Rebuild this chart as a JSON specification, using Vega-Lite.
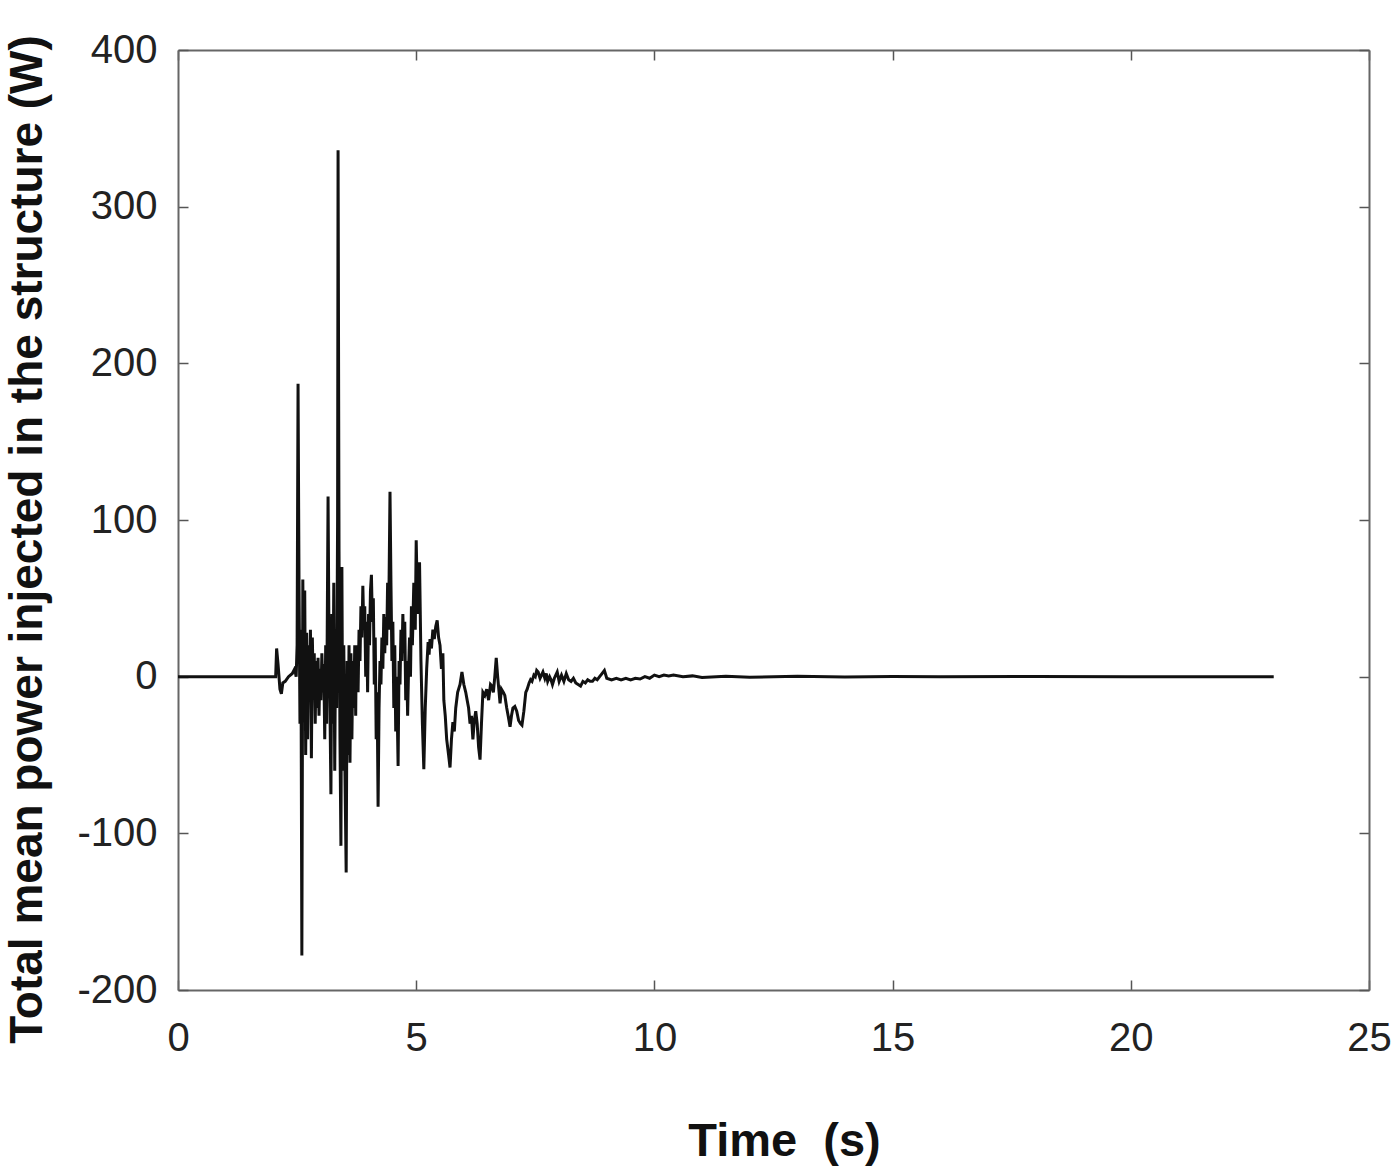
{
  "$schema": "https://vega.github.io/schema/vega-lite/v6.json",
  "autosize": {"type": "none"},
  "padding": {"left": 178, "top": 50, "right": 31, "bottom": 180},
  "width": 1191,
  "height": 940,
  "background": "white",
  "config": {
    "view": {"stroke": null},
    "axis": {
      "grid": false,
      "domainColor": "#666",
      "domainWidth": 2,
      "tickColor": "#555",
      "tickWidth": 1.5,
      "tickSize": -10,
      "labelFont": "Liberation Sans",
      "labelFontSize": 40,
      "labelColor": "#222",
      "titleFont": "Liberation Sans",
      "titleFontWeight": "bold",
      "titleColor": "#111"
    }
  },
  "data": {"values": [
    {"t": 0, "v": 0}, {"t": 2.05, "v": 0}, {"t": 2.07, "v": 18}, {"t": 2.1, "v": 8}, {"t": 2.14, "v": -8}, {"t": 2.17, "v": -11},
    {"t": 2.2, "v": -4}, {"t": 2.25, "v": -3}, {"t": 2.32, "v": 0}, {"t": 2.4, "v": 2}, {"t": 2.45, "v": 5}, {"t": 2.48, "v": 0},
    {"t": 2.5, "v": 20}, {"t": 2.52, "v": 187}, {"t": 2.54, "v": 60}, {"t": 2.56, "v": -30}, {"t": 2.58, "v": 30}, {"t": 2.6, "v": -178},
    {"t": 2.62, "v": 62}, {"t": 2.64, "v": -20}, {"t": 2.66, "v": 55}, {"t": 2.68, "v": -50}, {"t": 2.7, "v": 28}, {"t": 2.72, "v": -40},
    {"t": 2.74, "v": 20}, {"t": 2.76, "v": -15}, {"t": 2.78, "v": 30}, {"t": 2.8, "v": -52}, {"t": 2.82, "v": 25}, {"t": 2.84, "v": -10},
    {"t": 2.86, "v": 15}, {"t": 2.88, "v": -30}, {"t": 2.9, "v": 10}, {"t": 2.92, "v": -20}, {"t": 2.94, "v": 12}, {"t": 2.96, "v": -25},
    {"t": 2.98, "v": 5}, {"t": 3.0, "v": -15}, {"t": 3.02, "v": 15}, {"t": 3.04, "v": -10}, {"t": 3.06, "v": 8}, {"t": 3.08, "v": -40},
    {"t": 3.1, "v": 20}, {"t": 3.12, "v": -30}, {"t": 3.15, "v": 115}, {"t": 3.17, "v": 20}, {"t": 3.19, "v": -20}, {"t": 3.21, "v": -75},
    {"t": 3.23, "v": 40}, {"t": 3.25, "v": -30}, {"t": 3.27, "v": 60}, {"t": 3.29, "v": -60}, {"t": 3.31, "v": 30}, {"t": 3.33, "v": -20},
    {"t": 3.35, "v": 100}, {"t": 3.36, "v": 336}, {"t": 3.38, "v": 80}, {"t": 3.4, "v": -40}, {"t": 3.42, "v": -108}, {"t": 3.44, "v": 70},
    {"t": 3.46, "v": -60}, {"t": 3.48, "v": 20}, {"t": 3.5, "v": -50}, {"t": 3.53, "v": -125}, {"t": 3.55, "v": 10}, {"t": 3.57, "v": -50},
    {"t": 3.59, "v": 20}, {"t": 3.61, "v": -55}, {"t": 3.63, "v": 15}, {"t": 3.65, "v": -40}, {"t": 3.67, "v": 10}, {"t": 3.69, "v": -20},
    {"t": 3.71, "v": 20}, {"t": 3.73, "v": -25}, {"t": 3.74, "v": 10}, {"t": 3.76, "v": 20}, {"t": 3.78, "v": -10}, {"t": 3.8, "v": 30},
    {"t": 3.82, "v": 10}, {"t": 3.84, "v": 45}, {"t": 3.86, "v": 25}, {"t": 3.88, "v": 58}, {"t": 3.9, "v": 30}, {"t": 3.92, "v": 45},
    {"t": 3.94, "v": 0}, {"t": 3.96, "v": 35}, {"t": 3.98, "v": -10}, {"t": 4.0, "v": 40}, {"t": 4.02, "v": 20}, {"t": 4.04, "v": 55},
    {"t": 4.06, "v": 65}, {"t": 4.08, "v": 35}, {"t": 4.1, "v": 50}, {"t": 4.12, "v": -5}, {"t": 4.14, "v": 25}, {"t": 4.16, "v": -40},
    {"t": 4.18, "v": -10}, {"t": 4.2, "v": -83}, {"t": 4.22, "v": -20}, {"t": 4.24, "v": 10}, {"t": 4.26, "v": -5}, {"t": 4.28, "v": 25},
    {"t": 4.3, "v": 5}, {"t": 4.32, "v": 40}, {"t": 4.34, "v": 15}, {"t": 4.36, "v": 38}, {"t": 4.38, "v": 20}, {"t": 4.4, "v": 60},
    {"t": 4.42, "v": 30}, {"t": 4.45, "v": 118}, {"t": 4.47, "v": 60}, {"t": 4.49, "v": 10}, {"t": 4.51, "v": 35}, {"t": 4.53, "v": -20},
    {"t": 4.55, "v": 20}, {"t": 4.57, "v": -35}, {"t": 4.59, "v": 0}, {"t": 4.62, "v": -57}, {"t": 4.64, "v": 10}, {"t": 4.66, "v": -5},
    {"t": 4.68, "v": 30}, {"t": 4.7, "v": 10}, {"t": 4.72, "v": 40}, {"t": 4.74, "v": 15}, {"t": 4.76, "v": 35}, {"t": 4.78, "v": -15},
    {"t": 4.8, "v": 10}, {"t": 4.82, "v": -25}, {"t": 4.84, "v": 5}, {"t": 4.86, "v": 25}, {"t": 4.88, "v": 0}, {"t": 4.9, "v": 45},
    {"t": 4.92, "v": 20}, {"t": 4.95, "v": 60}, {"t": 4.98, "v": 30}, {"t": 5.0, "v": 87}, {"t": 5.03, "v": 40}, {"t": 5.05, "v": 70},
    {"t": 5.07, "v": 73}, {"t": 5.1, "v": 10}, {"t": 5.13, "v": -30}, {"t": 5.16, "v": -59}, {"t": 5.19, "v": -20}, {"t": 5.22, "v": 5},
    {"t": 5.25, "v": 22}, {"t": 5.27, "v": 14}, {"t": 5.29, "v": 24}, {"t": 5.32, "v": 18}, {"t": 5.35, "v": 30}, {"t": 5.38, "v": 24}, {"t": 5.41, "v": 32}, {"t": 5.44, "v": 36},
    {"t": 5.47, "v": 25}, {"t": 5.5, "v": 20}, {"t": 5.53, "v": 5}, {"t": 5.56, "v": 15}, {"t": 5.58, "v": -15}, {"t": 5.61, "v": -25},
    {"t": 5.64, "v": -40}, {"t": 5.68, "v": -50}, {"t": 5.71, "v": -58}, {"t": 5.74, "v": -40}, {"t": 5.77, "v": -29}, {"t": 5.8, "v": -35},
    {"t": 5.83, "v": -20}, {"t": 5.87, "v": -10}, {"t": 5.92, "v": -5}, {"t": 5.96, "v": 3}, {"t": 6.0, "v": -5}, {"t": 6.04, "v": -10},
    {"t": 6.07, "v": -15}, {"t": 6.1, "v": -20}, {"t": 6.13, "v": -30}, {"t": 6.16, "v": -25}, {"t": 6.19, "v": -40}, {"t": 6.22, "v": -28},
    {"t": 6.25, "v": -22}, {"t": 6.28, "v": -30}, {"t": 6.31, "v": -45}, {"t": 6.34, "v": -53}, {"t": 6.37, "v": -30}, {"t": 6.4, "v": -10},
    {"t": 6.44, "v": -12}, {"t": 6.48, "v": -8}, {"t": 6.52, "v": -15}, {"t": 6.56, "v": -5}, {"t": 6.59, "v": -6}, {"t": 6.62, "v": -10},
    {"t": 6.65, "v": 0}, {"t": 6.68, "v": 12}, {"t": 6.71, "v": 0}, {"t": 6.74, "v": -10}, {"t": 6.76, "v": -17}, {"t": 6.79, "v": -8},
    {"t": 6.83, "v": -10}, {"t": 6.86, "v": -12}, {"t": 6.9, "v": -20}, {"t": 6.93, "v": -25}, {"t": 6.97, "v": -32}, {"t": 7.0, "v": -25},
    {"t": 7.03, "v": -20}, {"t": 7.07, "v": -19}, {"t": 7.11, "v": -22}, {"t": 7.15, "v": -28}, {"t": 7.19, "v": -30}, {"t": 7.22, "v": -31},
    {"t": 7.26, "v": -22}, {"t": 7.3, "v": -10}, {"t": 7.33, "v": -8}, {"t": 7.37, "v": -4}, {"t": 7.4, "v": -2}, {"t": 7.43, "v": -3},
    {"t": 7.47, "v": 1}, {"t": 7.5, "v": 0}, {"t": 7.53, "v": 4}, {"t": 7.56, "v": 3}, {"t": 7.6, "v": -1}, {"t": 7.63, "v": 1},
    {"t": 7.66, "v": 3}, {"t": 7.7, "v": -1}, {"t": 7.73, "v": 2}, {"t": 7.76, "v": -3}, {"t": 7.8, "v": 0}, {"t": 7.83, "v": -2},
    {"t": 7.86, "v": -5}, {"t": 7.9, "v": -1}, {"t": 7.93, "v": 1}, {"t": 7.96, "v": 3}, {"t": 8.0, "v": -3}, {"t": 8.05, "v": 1},
    {"t": 8.1, "v": -3}, {"t": 8.15, "v": 2}, {"t": 8.2, "v": -2}, {"t": 8.25, "v": -3}, {"t": 8.3, "v": -1}, {"t": 8.35, "v": -4},
    {"t": 8.4, "v": -5}, {"t": 8.45, "v": -6}, {"t": 8.5, "v": -3}, {"t": 8.55, "v": -4}, {"t": 8.6, "v": -2}, {"t": 8.65, "v": -3},
    {"t": 8.7, "v": -3}, {"t": 8.75, "v": -1}, {"t": 8.8, "v": -2}, {"t": 8.85, "v": 0}, {"t": 8.9, "v": 2}, {"t": 8.95, "v": 4},
    {"t": 9.0, "v": -1}, {"t": 9.1, "v": -2}, {"t": 9.2, "v": -1}, {"t": 9.3, "v": -2}, {"t": 9.4, "v": -1}, {"t": 9.5, "v": -2},
    {"t": 9.6, "v": -1}, {"t": 9.7, "v": -1.5}, {"t": 9.8, "v": 0}, {"t": 9.9, "v": -1}, {"t": 10.0, "v": 1}, {"t": 10.1, "v": 0},
    {"t": 10.2, "v": 1}, {"t": 10.3, "v": 0.5}, {"t": 10.4, "v": 1}, {"t": 10.6, "v": 0}, {"t": 10.8, "v": 0.5}, {"t": 11.0, "v": -0.5},
    {"t": 11.5, "v": 0.3}, {"t": 12.0, "v": -0.3}, {"t": 13.0, "v": 0.2}, {"t": 14.0, "v": -0.2}, {"t": 15.0, "v": 0.1}, {"t": 16.0, "v": 0},
    {"t": 18.0, "v": 0.1}, {"t": 20.0, "v": 0}, {"t": 23.0, "v": 0}
  ]},
  "layer": [
    {
      "mark": {"type": "line", "color": "#111", "strokeWidth": 3, "strokeJoin": "miter", "clip": true},
      "encoding": {
        "x": {"field": "t", "type": "quantitative", "scale": {"domain": [0, 25], "nice": false, "zero": false},
              "axis": {"orient": "bottom", "values": [0, 5, 10, 15, 20, 25], "labelPadding": 38, "labelExpr": "'' + datum.value", "title": "Time\u00a0\u00a0(s)", "titleFontSize": 47, "titlePadding": 60, "titleX": 606, "labelFlush": false}},
        "y": {"field": "v", "type": "quantitative", "scale": {"domain": [-200, 400], "nice": false, "zero": false},
              "axis": {"orient": "left", "values": [-200, -100, 0, 100, 200, 300, 400], "labelPadding": 31, "labelExpr": "'' + datum.value", "title": "Total mean power injected in the structure (W)", "titleFontSize": 46, "titlePadding": 25, "titleY": 489, "labelFlush": false}}
      }
    },
    {
      "mark": {"type": "line", "opacity": 0},
      "encoding": {
        "x": {"field": "t", "type": "quantitative", "scale": {"domain": [0, 25], "nice": false, "zero": false},
              "axis": {"orient": "top", "values": [0, 5, 10, 15, 20, 25], "labels": false, "title": null}},
        "y": {"field": "v", "type": "quantitative", "scale": {"domain": [-200, 400], "nice": false, "zero": false},
              "axis": {"orient": "right", "values": [-200, -100, 0, 100, 200, 300, 400], "labels": false, "title": null}}
      }
    }
  ],
  "resolve": {"axis": {"x": "independent", "y": "independent"}}
}
